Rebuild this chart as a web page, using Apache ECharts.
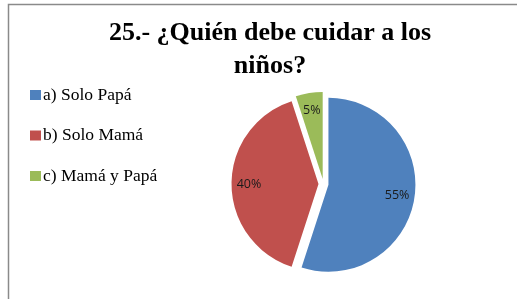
<!DOCTYPE html>
<html>
<head>
<meta charset="utf-8">
<script src="https://cdn.jsdelivr.net/npm/echarts@6/dist/echarts.min.js"></script>
<style>
  html, body { margin: 0; padding: 0; background: #fff; }
  #chart { width: 517px; height: 299px; }
</style>
</head>
<body>
<div id="chart"></div>
<script>
// datos de la gráfica
const categorias = ['a) Solo Papá', 'b) Solo Mamá', 'c) Mamá y Papá'];
const valores = [55, 40, 5];
const colores = ['#4F81BD', '#C0504D', '#9BBB59'];

const chart = echarts.init(document.getElementById('chart'));

const datos = categorias.map((n, i) => ({ name: n, value: valores[i], selected: true, itemStyle: { color: colores[i] } }));

const option = {
  animation: false,
  title: {
    text: '25.- ¿Quién debe cuidar a los\nniños?',
    left: 270, top: 17, textAlign: 'center', padding: 0,
    textStyle: { fontFamily: 'Liberation Serif', fontWeight: 'bold', fontSize: 26, lineHeight: 33, color: '#000' }
  },
  legend: {
    orient: 'vertical', left: 30, top: 86, padding: 0,
    itemWidth: 11, itemHeight: 10, itemGap: 22.5,
    icon: 'rect',
    data: categorias,
    textStyle: { fontFamily: 'Liberation Serif', fontSize: 17.5, lineHeight: 17, color: '#000', padding: [0, 0, 0, -3] }
  },
  graphic: [{
    type: 'rect', silent: true,
    shape: { x: 8.5, y: 4.5, width: 600, height: 400 },
    style: { fill: 'none', stroke: '#8a8a8a', lineWidth: 1.5 }
  }],
  series: [
    {
      // rebanadas visibles
      type: 'pie', center: [323.5, 184], radius: [0, 87],
      startAngle: 90, selectedMode: 'multiple', selectedOffset: 5,
      label: { show: false }, labelLine: { show: false },
      emphasis: { disabled: true },
      data: datos
    },
    {
      // capa transparente solo para ubicar las etiquetas a ~3/4 del radio
      type: 'pie', center: [323.5, 184], radius: [46, 87],
      startAngle: 90, selectedMode: 'multiple', selectedOffset: 5, silent: true,
      itemStyle: { color: 'rgba(0,0,0,0)' },
      emphasis: { disabled: true },
      label: {
        show: true, position: 'inside', formatter: '{d}%',
        fontFamily: 'Open Sans', fontSize: 12.5, color: '#1a1a1a'
      },
      labelLine: { show: false },
      data: categorias.map((n, i) => ({ name: n, value: valores[i], selected: true }))
    }
  ]
};
chart.setOption(option);
</script>
</body>
</html>
